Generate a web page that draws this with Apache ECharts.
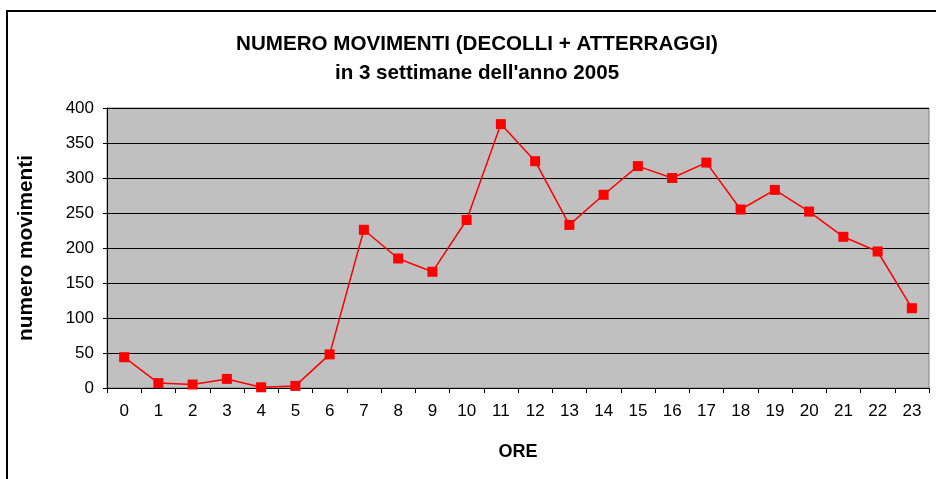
<!DOCTYPE html>
<html>
<head>
<meta charset="utf-8">
<script src="https://cdn.jsdelivr.net/npm/echarts@6/dist/echarts.min.js"></script>
<style>
html, body { margin: 0; padding: 0; background: #fff; }
#container { width: 936px; height: 479px; }
</style>
</head>
<body>
<div id="container"></div>
<script>
// ore del giorno e numero movimenti
let ore = ['0','1','2','3','4','5','6','7','8','9','10','11','12','13','14','15','16','17','18','19','20','21','22','23'];
let movimenti = [44, 7, 5, 13, 1, 3, 48, 226, 185, 166, 240, 377, 324, 233, 276, 317, 300, 322, 255, 283, 252, 216, 195, 114];
let yTicks = {min: 0, max: 400, interval: 50};

let dom = document.getElementById('container');
let chart = echarts.init(dom);

let fnt = 'Liberation Sans, Arial, sans-serif';

chart.setOption({
    animation: false,
    title: {
        text: 'NUMERO MOVIMENTI (DECOLLI + ATTERRAGGI)\nin 3 settimane dell\'anno 2005',
        left: 472,
        top: 25,
        textAlign: 'center',
        textStyle: {
            fontFamily: fnt,
            fontSize: 20.6,
            fontWeight: 'bold',
            color: '#000',
            lineHeight: 29
        }
    },
    graphic: [{
        type: 'rect',
        shape: {x: 7, y: 11, width: 1000, height: 600},
        style: {fill: 'none', stroke: '#000', lineWidth: 2},
        silent: true
    }],
    grid: {
        left: 107,
        top: 108,
        width: 822,
        height: 280,
        show: true,
        backgroundColor: '#c0c0c0',
        borderColor: '#808080',
        borderWidth: 1
    },
    xAxis: {
        type: 'category',
        data: ore,
        boundaryGap: true,
        name: 'ORE',
        nameLocation: 'middle',
        nameGap: 55,
        nameTextStyle: {fontFamily: fnt, fontSize: 18, fontWeight: 'bold', color: '#000'},
        axisLine: {lineStyle: {color: '#000', width: 1}},
        axisTick: {show: true, inside: false, length: 5, lineStyle: {color: '#000'}},
        axisLabel: {fontFamily: fnt, fontSize: 17, color: '#000', margin: 15}
    },
    yAxis: {
        type: 'value',
        min: yTicks.min,
        max: yTicks.max,
        interval: yTicks.interval,
        name: 'numero movimenti',
        nameLocation: 'middle',
        nameGap: 70,
        nameRotate: 90,
        nameTextStyle: {fontFamily: fnt, fontSize: 20.8, fontWeight: 'bold', color: '#000'},
        axisLine: {show: true, lineStyle: {color: '#000'}},
        axisTick: {show: true, inside: false, length: 4, lineStyle: {color: '#000'}},
        axisLabel: {fontFamily: fnt, fontSize: 17, color: '#000', margin: 13},
        splitLine: {show: true, lineStyle: {color: '#000', width: 1}}
    },
    series: [{
        name: 'movimenti',
        type: 'line',
        data: movimenti,
        symbol: 'rect',
        symbolSize: 10,
        lineStyle: {color: '#ff0000', width: 1.5},
        itemStyle: {color: '#ff0000'}
    }]
});
</script>
</body>
</html>
